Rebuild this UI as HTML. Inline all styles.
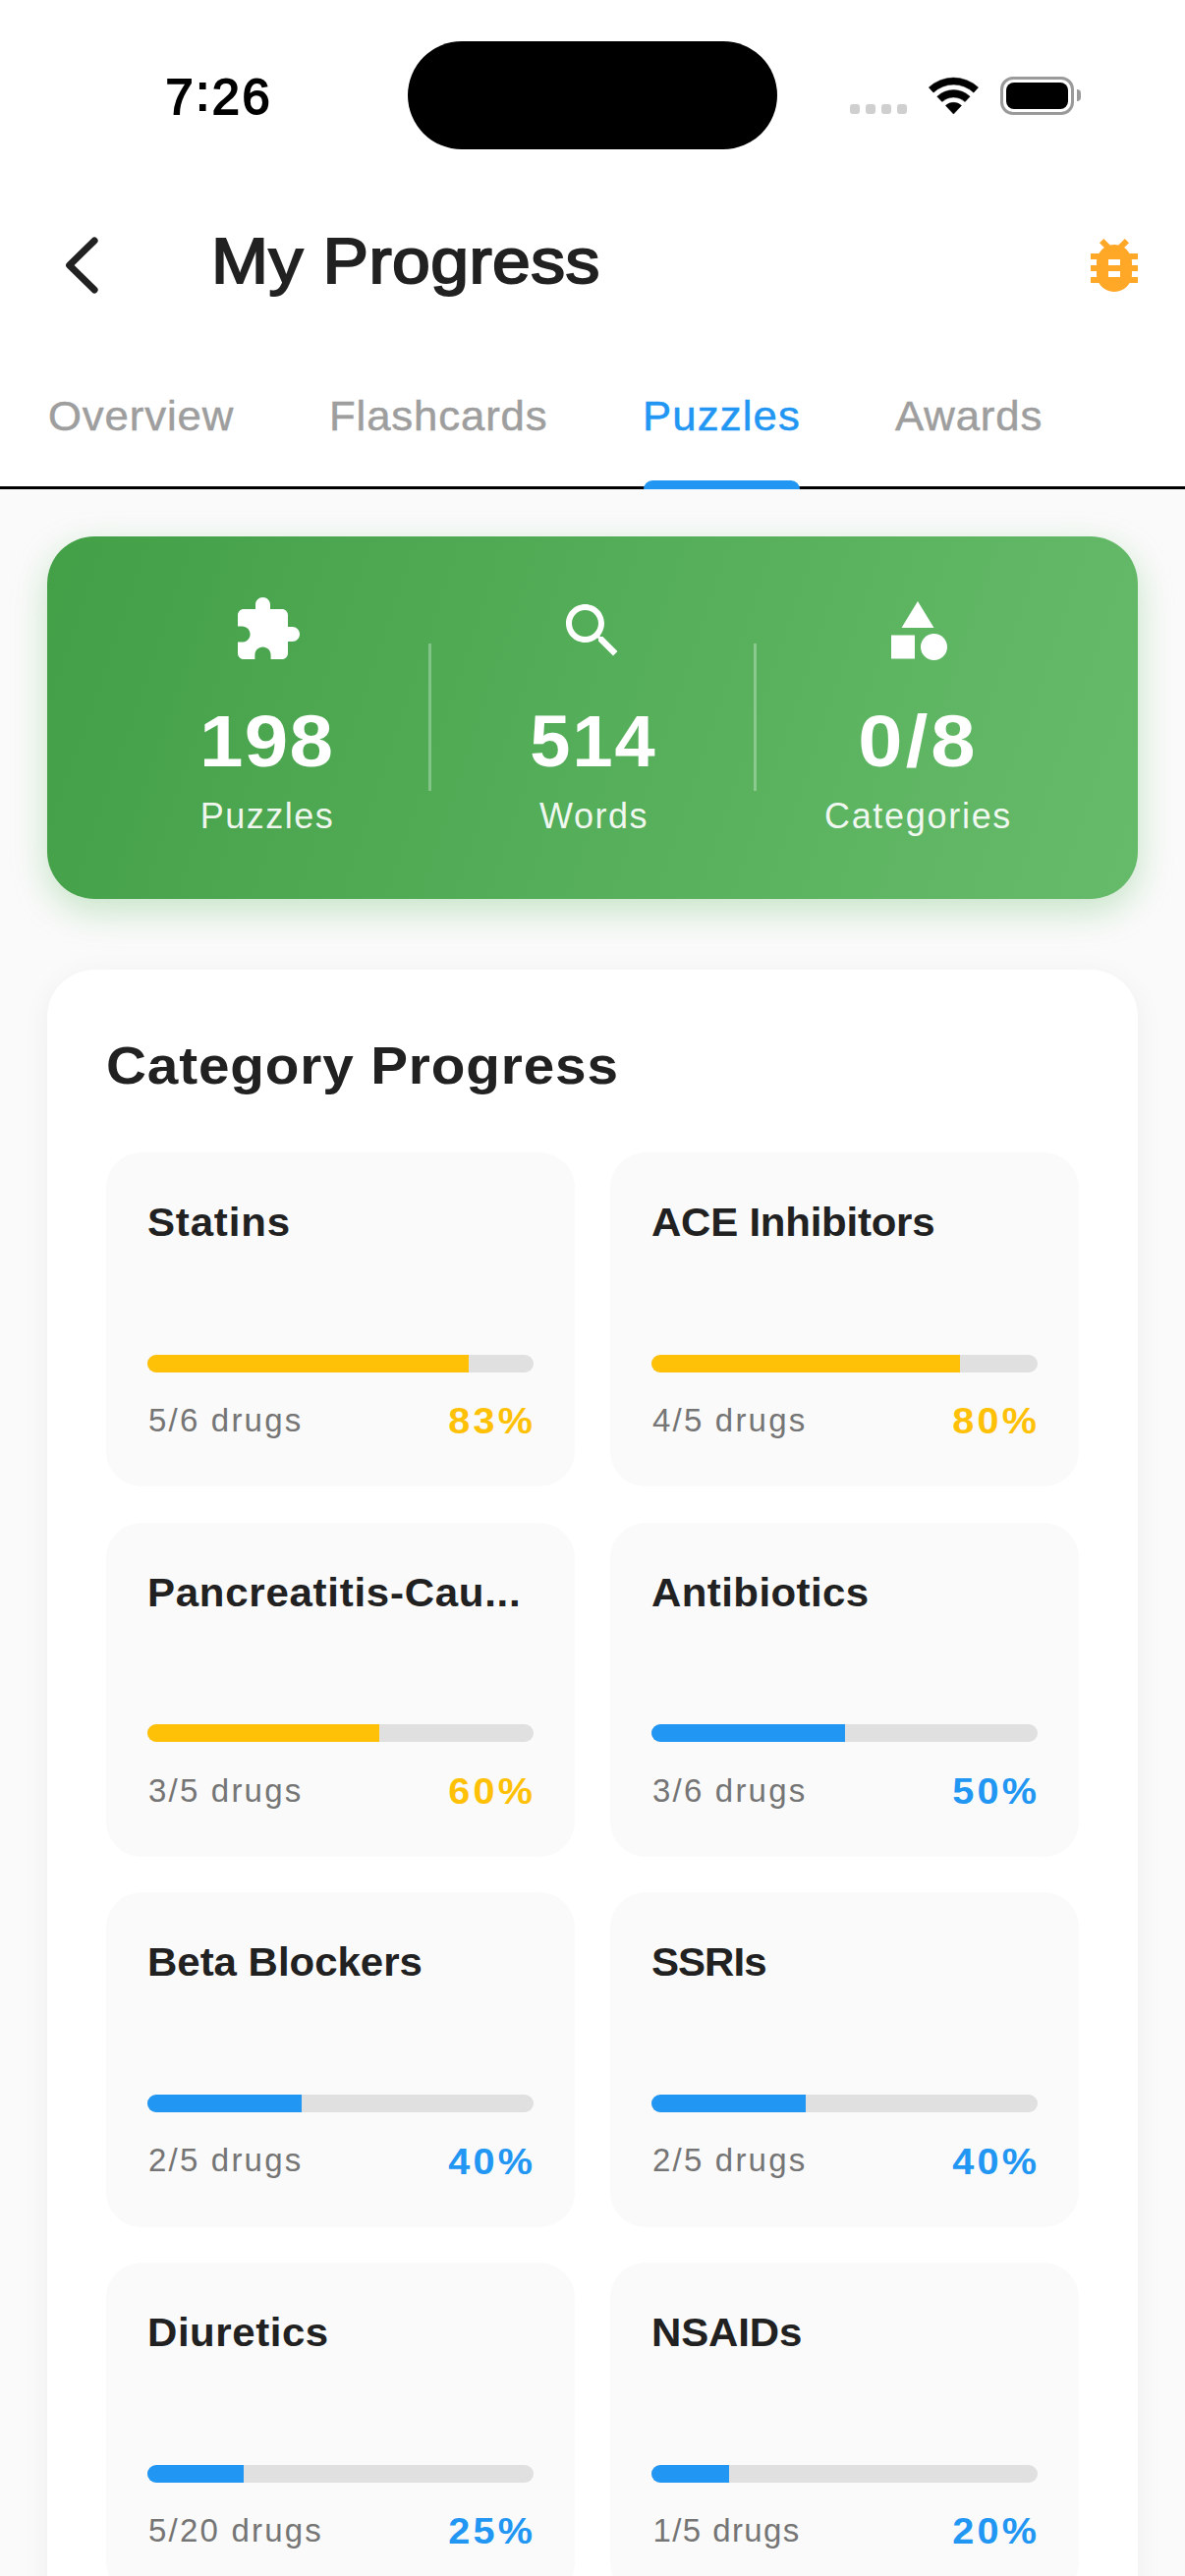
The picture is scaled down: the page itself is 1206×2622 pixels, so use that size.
<!DOCTYPE html>
<html lang="en">
<head>
<meta charset="utf-8">
<title>My Progress</title>
<style>
*{margin:0;padding:0;box-sizing:border-box}
html,body{width:1206px;height:2622px;overflow:hidden;background:#fafafa}
body{position:relative;font-family:"Liberation Sans",sans-serif;color:#212121}
.abs{position:absolute}
.top{position:absolute;left:0;top:0;width:1206px;height:495px;background:#fff}
.line{position:absolute;left:0;top:495px;width:1206px;height:3px;background:#000}
.ind{position:absolute;left:655px;top:489px;width:159px;height:9px;background:#2196f3;border-radius:9px 9px 0 0}
.time{position:absolute;left:168.5px;top:69px;font-size:50.5px;font-weight:400;color:#000;line-height:60px;letter-spacing:2.6px;-webkit-text-stroke:1.8px #000;white-space:nowrap}
.island{position:absolute;left:415px;top:42px;width:376px;height:110px;border-radius:55px;background:#000}
.dot{position:absolute;top:106px;width:10px;height:10px;border-radius:3px;background:#cfcfcf}
.title{position:absolute;left:215px;top:226px;font-size:65px;font-weight:400;line-height:80px;white-space:nowrap;color:#212121;-webkit-text-stroke:2px #212121;letter-spacing:0.4px;transform:scaleX(1.072);transform-origin:0 50%}
.tab{position:absolute;top:399px;font-size:42px;line-height:50px;color:#9e9e9e;white-space:nowrap;letter-spacing:0.85px;-webkit-text-stroke:0.5px currentColor;transform:scaleX(1.04);transform-origin:0 50%}
.tab.on{color:#2196f3}
.green{position:absolute;left:48px;top:546px;width:1110px;height:369px;border-radius:48px;background:linear-gradient(108.4deg,#43a047 0%,#66bb6a 100%);box-shadow:0 12px 36px rgba(76,175,80,.30)}
.vdiv{position:absolute;top:655px;width:3px;height:150px;background:rgba(255,255,255,.3)}
.num{position:absolute;top:712px;width:328px;text-align:center;font-size:74px;font-weight:700;line-height:86px;color:#fff;letter-spacing:6px;text-indent:6px;white-space:nowrap}
.lab{position:absolute;top:809px;width:328px;text-align:center;font-size:36px;line-height:44px;color:rgba(255,255,255,.92);letter-spacing:1.5px;white-space:nowrap}
.card{position:absolute;left:48px;top:987px;width:1110px;height:1700px;border-radius:48px;background:#fff;box-shadow:0 6px 30px rgba(0,0,0,.05)}
.h2{position:absolute;left:108px;top:1052px;font-size:54px;font-weight:700;line-height:64px;letter-spacing:0.81px;white-space:nowrap;color:#212121;transform:scaleX(1.05);transform-origin:0 50%}
.tile{position:absolute;width:477px;height:340.7px;border-radius:36px;background:#fafafa}
.tile .t{position:absolute;left:42px;top:47.2px;width:400px;font-size:40px;font-weight:700;line-height:48px;letter-spacing:0.79px;transform:scaleX(1.05);transform-origin:0 50%;white-space:nowrap;overflow:hidden;color:#212121}
.tile .bar{position:absolute;left:42px;top:205.8px;width:393px;height:18px;border-radius:9px;background:#e0e0e0;overflow:hidden}
.tile .bar i{display:block;height:18px;background:#ffc107}
.tile .d{position:absolute;left:43px;top:253.2px;font-size:33px;line-height:40px;color:#757575;letter-spacing:2.2px;white-space:nowrap}
.tile .p{position:absolute;right:40px;top:252.5px;font-size:37px;font-weight:700;line-height:44px;color:#ffc107;letter-spacing:3px;transform:scaleX(1.07);transform-origin:100% 50%;white-space:nowrap}
.tile.b .bar i{background:#2196f3}
.tile.b .p{color:#2196f3}
</style>
</head>
<body>
<div class="top"></div>
<div class="time">7<span style="position:relative;top:-4.500px">:</span>26</div>
<div class="island"></div>
<div class="dot" style="left:865px"></div><div class="dot" style="left:881px"></div><div class="dot" style="left:897px"></div><div class="dot" style="left:913px"></div>
<svg class="abs" style="left:945px;top:78px" width="51" height="39" viewBox="0 0 51 39"><path d="M25.450 38.100 L17.400 29.470 A11.800 11.800 0 0 1 33.500 29.470 Z M13.790 25.600 L8.740 20.190 A24.500 24.500 0 0 1 42.160 20.190 L37.110 25.600 A17.100 17.100 0 0 0 13.790 25.600 Z M4.990 16.170 L0.300 10.910 A37.200 37.200 0 0 1 50.600 10.910 L45.910 16.170 A30 30 0 0 0 4.990 16.170 Z" fill="#000" stroke="#000" stroke-width="0.5" stroke-linejoin="round"/></svg>
<div class="abs" style="left:1018px;top:78px;width:75px;height:39px;border:3px solid #9a9a9a;border-radius:13px"></div>
<div class="abs" style="left:1024px;top:84px;width:63px;height:27px;border-radius:8px;background:#000"></div>
<div class="abs" style="left:1096px;top:91px;width:4px;height:12px;border-radius:0 4px 4px 0;background:#9a9a9a"></div>

<svg class="abs" style="left:55px;top:232px" width="60" height="76" viewBox="0 0 60 76"><path d="M41.100 12.900 L15.600 38 L41.100 63.100" fill="none" stroke="#212121" stroke-width="7" stroke-linecap="round" stroke-linejoin="round"/></svg>
<div class="title">My Progress</div>
<svg class="abs" style="left:1098px;top:234px" width="72" height="72" viewBox="0 0 24 24"><path fill="#ffa726" d="M20 8h-2.810c-.45-.78-1.070-1.450-1.820-1.960L17 4.410 15.590 3l-2.170 2.170C12.960 5.060 12.490 5 12 5c-.49 0-.96.060-1.410.170L8.410 3 7 4.410l1.620 1.630C7.880 6.550 7.260 7.220 6.810 8H4v2h2.090c-.05.330-.09.660-.09 1v1H4v2h2v1c0 .34.040.67.090 1H4v2h2.810c1.040 1.790 2.970 3 5.190 3s4.150-1.210 5.190-3H20v-2h-2.090c.05-.33.090-.66.090-1v-1h2v-2h-2v-1c0-.34-.04-.67-.09-1H20V8zm-6 8h-4v-2h4v2zm0-4h-4v-2h4v2z"/></svg>

<div class="tab" style="left:49px">Overview</div>
<div class="tab" style="left:335px">Flashcards</div>
<div class="tab on" style="left:654px;letter-spacing:1.1px">Puzzles</div>
<div class="tab" style="left:911px">Awards</div>
<div class="line"></div>
<div class="ind"></div>

<div class="green"></div>
<svg class="abs" style="left:236px;top:605px" width="72" height="72" viewBox="0 0 24 24"><path fill="#fff" d="M20.500 11H19V7c0-1.100-.9-2-2-2h-4V3.500C13 2.120 11.880 1 10.500 1S8 2.120 8 3.500V5H4c-1.100 0-1.990.9-1.990 2v3.800H3.500c1.490 0 2.700 1.210 2.700 2.700s-1.210 2.700-2.700 2.700H2V20c0 1.100.9 2 2 2h3.800v-1.500c0-1.490 1.210-2.700 2.700-2.700 1.490 0 2.700 1.210 2.700 2.700V22H17c1.100 0 2-.9 2-2v-4h1.500c1.380 0 2.500-1.120 2.500-2.500S21.880 11 20.500 11z"/></svg>
<svg class="abs" style="left:567px;top:606px" width="72" height="72" viewBox="0 0 24 24"><path fill="#fff" d="M15.500 14h-.79l-.28-.27C15.410 12.590 16 11.110 16 9.500 16 5.910 13.090 3 9.500 3S3 5.910 3 9.500 5.910 16 9.500 16c1.610 0 3.090-.59 4.230-1.570l.27.28v.79l5 4.990L20.490 19l-4.990-5zm-6 0C7.010 14 5 11.990 5 9.500S7.010 5 9.500 5 14 7.010 14 9.500 11.990 14 9.500 14z"/></svg>
<svg class="abs" style="left:898px;top:606px" width="72" height="72" viewBox="0 0 24 24"><path fill="#fff" d="M12 2l-5.500 9h11z"/><circle cx="17.500" cy="17.500" r="4.500" fill="#fff"/><path fill="#fff" d="M3 13.500h8v8H3z"/></svg>
<div class="vdiv" style="left:436px"></div>
<div class="vdiv" style="left:767px"></div>
<div class="num" style="left:107px;letter-spacing:1.2px;text-indent:1.2px;transform:scaleX(1.08)">198</div>
<div class="num" style="left:439px;letter-spacing:2px;text-indent:2px">514</div>
<div class="num" style="left:769px;letter-spacing:2.8px;text-indent:2.8px;transform:scaleX(1.1)">0/8</div>
<div class="lab" style="left:108px">Puzzles</div>
<div class="lab" style="left:440.5px">Words</div>
<div class="lab" style="left:770.5px;letter-spacing:1.7px">Categories</div>

<div class="card"></div>
<div class="h2">Category Progress</div>

<div class="tile" style="left:108px;top:1172.8px"><div class="t">Statins</div><div class="bar"><i style="width:83.33%"></i></div><div class="d">5/6 drugs</div><div class="p">83%</div></div>
<div class="tile" style="left:621px;top:1172.8px"><div class="t" style="letter-spacing:-0.23px">ACE Inhibitors</div><div class="bar"><i style="width:80%"></i></div><div class="d">4/5 drugs</div><div class="p">80%</div></div>
<div class="tile" style="left:108px;top:1549.5px"><div class="t" style="letter-spacing:0.7px">Pancreatitis-Cau...</div><div class="bar"><i style="width:60%"></i></div><div class="d">3/5 drugs</div><div class="p">60%</div></div>
<div class="tile b" style="left:621px;top:1549.5px"><div class="t" style="letter-spacing:0.4px">Antibiotics</div><div class="bar"><i style="width:50%"></i></div><div class="d">3/6 drugs</div><div class="p">50%</div></div>
<div class="tile b" style="left:108px;top:1926.2px"><div class="t" style="letter-spacing:-0.02px">Beta Blockers</div><div class="bar"><i style="width:40%"></i></div><div class="d">2/5 drugs</div><div class="p">40%</div></div>
<div class="tile b" style="left:621px;top:1926.2px"><div class="t" style="letter-spacing:-0.92px">SSRIs</div><div class="bar"><i style="width:40%"></i></div><div class="d">2/5 drugs</div><div class="p">40%</div></div>
<div class="tile b" style="left:108px;top:2302.9px"><div class="t" style="letter-spacing:0.53px">Diuretics</div><div class="bar"><i style="width:25%"></i></div><div class="d">5/20 drugs</div><div class="p">25%</div></div>
<div class="tile b" style="left:621px;top:2302.9px"><div class="t" style="letter-spacing:-0.13px">NSAIDs</div><div class="bar"><i style="width:20%"></i></div><div class="d" style="letter-spacing:1.4px;left:43.5px">1/5 drugs</div><div class="p">20%</div></div>
</body>
</html>
